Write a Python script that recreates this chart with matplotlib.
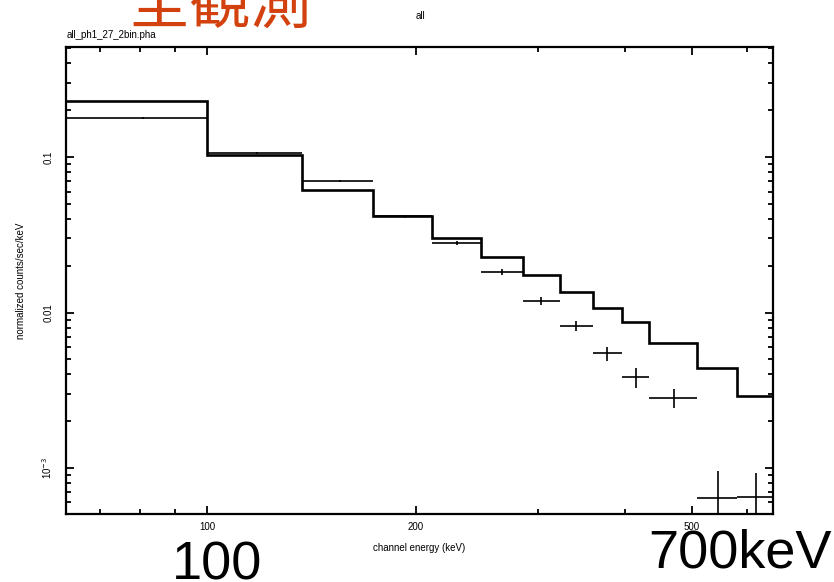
import matplotlib
matplotlib.use("Agg")
import matplotlib.pyplot as plt
import numpy as np
from matplotlib.ticker import LogLocator, NullFormatter, FixedLocator, FixedFormatter

# ---- data ----
bin_edges = [60.0, 100.0, 137.1, 173.5, 211.0, 248.3, 284.9, 322.6, 360.3,
             396.7, 433.9, 507.6, 581.0, 700.0]
model_values = [0.229, 0.1035, 0.0611, 0.0418, 0.0300, 0.0226, 0.0174,
                0.01349, 0.01074, 0.00873, 0.0064, 0.00438, 0.00292]
data_centers = [80.9, 118.0, 155.5, 192.9, 229.2, 266.1, 303.2, 340.5,
                377.5, 414.7, 470.9, 545.5, 618.1]
data_values = [0.178, 0.1055, 0.0701, 0.0415, 0.0279, 0.01815, 0.0119,
               0.00822, 0.00547, 0.00383, 0.00283, 0.000638, 0.000648]
data_err_lo = [0.003, 0.0015, 0.0015, 0.0008, 0.0008, 0.0008, 0.0007,
               0.00063, 0.00057, 0.00054, 0.0004, 0.0006, 0.0006]
data_err_hi = [0.003, 0.0015, 0.0015, 0.0008, 0.0008, 0.0008, 0.0007,
               0.00063, 0.00057, 0.00054, 0.0004, 0.00032, 0.000285]
x_major = [100, 200, 500]
x_major_labels = ["100", "200", "500"]
y_major = [1e-3, 1e-2, 1e-1]
y_major_labels = [r"10$^{-3}$", "0.01", "0.1"]

W, H = 834, 582
fig = plt.figure(figsize=(W / 100, H / 100), dpi=100)
small = ['Liberation Sans', 'DejaVu Sans']

ax = fig.add_axes([66 / W, 1 - 514 / H, (773 - 66) / W, (514 - 47) / H])
ax.set_xscale('log')
ax.set_yscale('log')
ax.set_xlim(62.6, 654)
ax.set_ylim(5.06e-4, 0.51)

# model (step)
ax.stairs(model_values, bin_edges, baseline=None, color='black', linewidth=1.9)

# data crosses
xc = np.array(data_centers)
edges = np.array(bin_edges)
xerr = [xc - edges[:-1], edges[1:] - xc]
ax.errorbar(xc, data_values, xerr=xerr, yerr=[data_err_lo, data_err_hi],
            fmt='none', ecolor='black', elinewidth=1.2, capsize=0)

for s in ax.spines.values():
    s.set_linewidth(1.6)

ax.xaxis.set_major_locator(FixedLocator(x_major))
ax.xaxis.set_major_formatter(FixedFormatter(x_major_labels))
ax.xaxis.set_minor_locator(LogLocator(base=10, subs=np.arange(2, 10)))
ax.xaxis.set_minor_formatter(NullFormatter())
ax.yaxis.set_major_locator(FixedLocator(y_major))
ax.yaxis.set_major_formatter(FixedFormatter(y_major_labels))
ax.yaxis.set_minor_locator(LogLocator(base=10, subs=np.arange(2, 10)))
ax.yaxis.set_minor_formatter(NullFormatter())

ax.tick_params(which='both', direction='in', top=True, right=True, width=1.3)
ax.tick_params(axis='x', which='major', length=6, labelsize=7, pad=6)
ax.tick_params(axis='y', which='major', length=6, labelsize=7, pad=9)
ax.tick_params(which='minor', length=3.5)
for lab in ax.get_yticklabels():
    lab.set_rotation(90)
    lab.set_va('center')
    lab.set_family(small)
for lab in ax.get_xticklabels():
    lab.set_family(small)

ax.set_xlabel("channel energy (keV)", fontsize=7, family=small, labelpad=8)
ax.set_ylabel("normalized counts/sec/keV", fontsize=7, family=small, labelpad=10)

fig.text(67 / W, 1 - 35 / H, "all_ph1_27_2bin.pha", fontsize=7, family=small,
         ha='left', va='center')
fig.text(420 / W, 1 - 16 / H, "all", fontsize=7, family=small, ha='center', va='center')

fig.text(220 / W, 1 - 23 / H, "全観測", fontsize=44, color='#D2410E',
         family=['Noto Sans CJK JP', 'DejaVu Sans'], ha='center', va='baseline')

big = ['Liberation Sans Narrow', 'Liberation Sans', 'DejaVu Sans']
fig.text(217 / W, 1 - 580 / H, "100", fontsize=39, family=big,
         ha='center', va='baseline')
fig.text(832 / W, 1 - 567 / H, "700keV", fontsize=39, family=big,
         ha='right', va='baseline')

fig.savefig("out.png", dpi=100)
